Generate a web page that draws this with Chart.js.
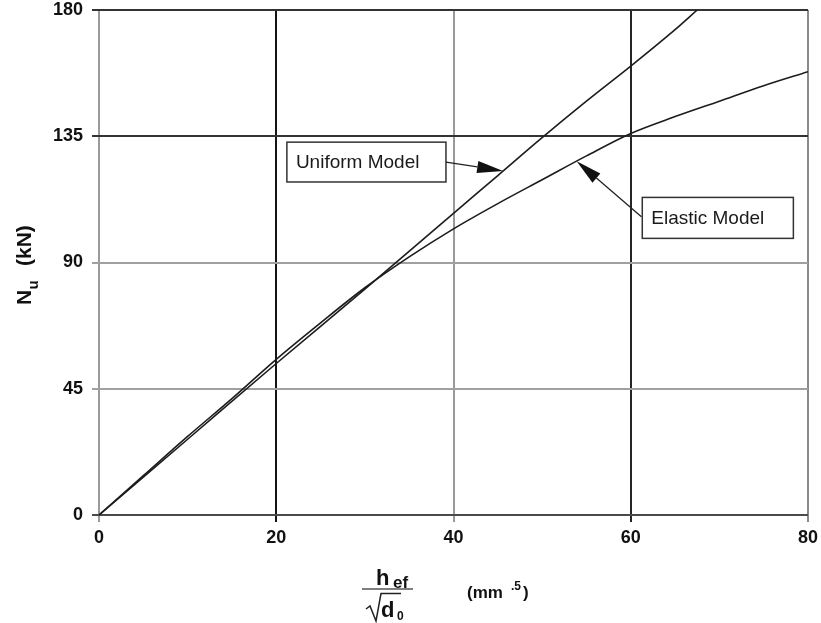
<!DOCTYPE html>
<html>
<head>
<meta charset="utf-8">
<script src="https://cdn.jsdelivr.net/npm/chart.js@4.4.0/dist/chart.umd.min.js"></script>
<style>
  html, body { margin: 0; padding: 0; background: #fff; }
</style>
</head>
<body>
<canvas id="myChart" width="821" height="623"></canvas>
<script>
// axis ticks
const xTicks = [0, 20, 40, 60, 80];
const yTicks = [0, 45, 90, 135, 180];

// ultimate load N_u (kN) against h_ef / sqrt(d_0)
const uniformX = [0, 10, 20, 30, 40, 45, 50, 55, 60, 65, 67.5];
const uniformY = [0, 27, 54, 80.5, 107.5, 121, 134.5, 147.5, 160, 173, 180];

const elasticX = [0, 5, 10, 15, 20, 25, 30, 35, 40, 45, 50, 55, 60, 65, 70, 75, 80];
const elasticY = [0, 14, 28, 41.5, 55.5, 68.5, 81, 92, 102, 111, 119.5, 128, 136, 142, 147.5, 153, 158];

const seriesNames = ["Uniform Model", "Elastic Model"];

// grid line shades, keyed by tick value
const xGridColors = { 0: "#9a9a9a", 20: "#151515", 40: "#9a9a9a", 60: "#252525", 80: "#8a8a8a" };
const yGridColors = { 0: "#4a4a4a", 45: "#a0a0a0", 90: "#a0a0a0", 135: "#333333", 180: "#333333" };

const FONT = '"Liberation Sans", Arial, sans-serif';

function toPoints(xs, ys) {
    return xs.map((x, i) => ({ x: x, y: ys[i] }));
}

// linear lookup of a series value at x
function valueAt(xs, ys, x) {
    for (let i = 1; i < xs.length; i++) {
        if (x <= xs[i]) {
            const t = (x - xs[i - 1]) / (xs[i] - xs[i - 1]);
            return ys[i - 1] + t * (ys[i] - ys[i - 1]);
        }
    }
    return ys[ys.length - 1];
}

// callout boxes with arrows pointing at the curves (data units)
const callouts = [
    { text: seriesNames[0], box: [21.2, 132.9, 39.15, 118.7], tail: [39.15, 125.8], tipX: 45.6, xs: uniformX, ys: uniformY },
    { text: seriesNames[1], box: [61.3, 113.2, 78.35, 98.6], tail: [61.2, 106.3], tipX: 53.9, xs: elasticX, ys: elasticY },
];

const calloutPlugin = {
    id: "callouts",
    afterDatasetsDraw(chart) {
        const { ctx, scales: { x, y } } = chart;
        ctx.save();
        callouts.forEach(c => {
            const left = x.getPixelForValue(c.box[0]);
            const top = y.getPixelForValue(c.box[1]);
            const right = x.getPixelForValue(c.box[2]);
            const bottom = y.getPixelForValue(c.box[3]);
            ctx.fillStyle = "#fff";
            ctx.fillRect(left, top, right - left, bottom - top);
            ctx.strokeStyle = "#333";
            ctx.lineWidth = 1.5;
            ctx.strokeRect(left, top, right - left, bottom - top);
            ctx.fillStyle = "#1a1a1a";
            ctx.font = "19px " + FONT;
            ctx.textBaseline = "middle";
            ctx.textAlign = "left";
            ctx.fillText(c.text, left + 9, (top + bottom) / 2 + 1);

            // arrow
            const tx = x.getPixelForValue(c.tail[0]);
            const ty = y.getPixelForValue(c.tail[1]);
            const px = x.getPixelForValue(c.tipX);
            const py = y.getPixelForValue(valueAt(c.xs, c.ys, c.tipX));
            const len = Math.hypot(tx - px, ty - py);
            const ux = (tx - px) / len, uy = (ty - py) / len;
            const headLen = 26, headW = 6;
            const bx = px + ux * headLen, by = py + uy * headLen;
            ctx.strokeStyle = "#222";
            ctx.lineWidth = 1.3;
            ctx.beginPath();
            ctx.moveTo(tx, ty);
            ctx.lineTo(bx, by);
            ctx.stroke();
            ctx.fillStyle = "#111";
            ctx.beginPath();
            ctx.moveTo(px, py);
            ctx.lineTo(bx - uy * headW, by + ux * headW);
            ctx.lineTo(bx + uy * headW, by - ux * headW);
            ctx.closePath();
            ctx.fill();
        });
        ctx.restore();
    }
};

const axisTitlePlugin = {
    id: "axisTitles",
    afterDraw(chart) {
        const ctx = chart.ctx;
        ctx.save();
        ctx.fillStyle = "#111";
        ctx.textAlign = "left";
        ctx.textBaseline = "alphabetic";

        // y title: N_u (kN), rotated
        ctx.save();
        ctx.translate(31, 305);
        ctx.rotate(-Math.PI / 2);
        ctx.font = "bold 21px " + FONT;
        ctx.fillText("N", 0, 0);
        ctx.font = "bold 15px " + FONT;
        ctx.fillText("u", 15.5, 7);
        ctx.font = "bold 21px " + FONT;
        ctx.fillText("(kN)", 39, 0);
        ctx.restore();

        // x title: h_ef / sqrt(d_0)  (mm^.5)
        ctx.font = "bold 22px " + FONT;
        ctx.fillText("h", 376, 585);
        ctx.font = "bold 17px " + FONT;
        ctx.fillText("ef", 393, 588);

        ctx.strokeStyle = "#555";
        ctx.lineWidth = 1.5;
        ctx.beginPath();
        ctx.moveTo(362, 589);
        ctx.lineTo(413, 589);
        ctx.stroke();

        ctx.strokeStyle = "#222";
        ctx.beginPath();
        ctx.moveTo(366, 609);
        ctx.lineTo(370, 606);
        ctx.lineTo(376, 621);
        ctx.lineTo(381, 593.5);
        ctx.lineTo(401, 593.5);
        ctx.stroke();

        ctx.font = "bold 22px " + FONT;
        ctx.fillText("d", 381, 617);
        ctx.font = "bold 12px " + FONT;
        ctx.fillText("0", 397, 620);

        ctx.font = "bold 17px " + FONT;
        ctx.fillText("(mm", 467, 598);
        ctx.font = "bold 12px " + FONT;
        ctx.fillText(".5", 511, 590);
        ctx.font = "bold 17px " + FONT;
        ctx.fillText(")", 523, 598);
        ctx.restore();
    }
};

const tickFont = { family: FONT, size: 18, weight: "bold" };

new Chart(document.getElementById("myChart").getContext("2d"), {
    type: "line",
    data: {
        datasets: [
            {
                label: seriesNames[0],
                data: toPoints(uniformX, uniformY),
                borderColor: "#1c1c1c",
                borderWidth: 1.6,
                pointRadius: 0,
                cubicInterpolationMode: "monotone",
                fill: false,
            },
            {
                label: seriesNames[1],
                data: toPoints(elasticX, elasticY),
                borderColor: "#1c1c1c",
                borderWidth: 1.6,
                pointRadius: 0,
                cubicInterpolationMode: "monotone",
                fill: false,
            },
        ],
    },
    options: {
        responsive: false,
        animation: false,
        layout: { padding: { top: 10, right: 13, left: 0, bottom: 0 } },
        plugins: {
            legend: { display: false },
            tooltip: { enabled: false },
        },
        scales: {
            x: {
                type: "linear",
                min: 0,
                max: 80,
                afterBuildTicks: s => { s.ticks = xTicks.map(v => ({ value: v })); },
                afterFit: s => {
                    s.height = 108;
                    s.paddingLeft = 0;
                    s.paddingRight = 0;
                },
                border: { display: false },
                grid: {
                    color: c => xGridColors[c.tick.value] || "#999",
                    tickColor: c => xGridColors[c.tick.value] || "#999",
                    lineWidth: 2,
                    tickLength: 7,
                },
                ticks: { font: tickFont, color: "#111", padding: 5, maxRotation: 0 },
            },
            y: {
                min: 0,
                max: 180,
                afterBuildTicks: s => { s.ticks = yTicks.map(v => ({ value: v })); },
                afterFit: s => {
                    s.width = 99;
                    s.paddingTop = 0;
                    s.paddingBottom = 0;
                },
                border: { display: false },
                grid: {
                    color: c => yGridColors[c.tick.value] || "#999",
                    tickColor: c => yGridColors[c.tick.value] || "#999",
                    lineWidth: 2,
                    tickLength: 7,
                },
                ticks: { font: tickFont, color: "#111", padding: 9 },
            },
        },
    },
    plugins: [calloutPlugin, axisTitlePlugin],
});
</script>
</body>
</html>
